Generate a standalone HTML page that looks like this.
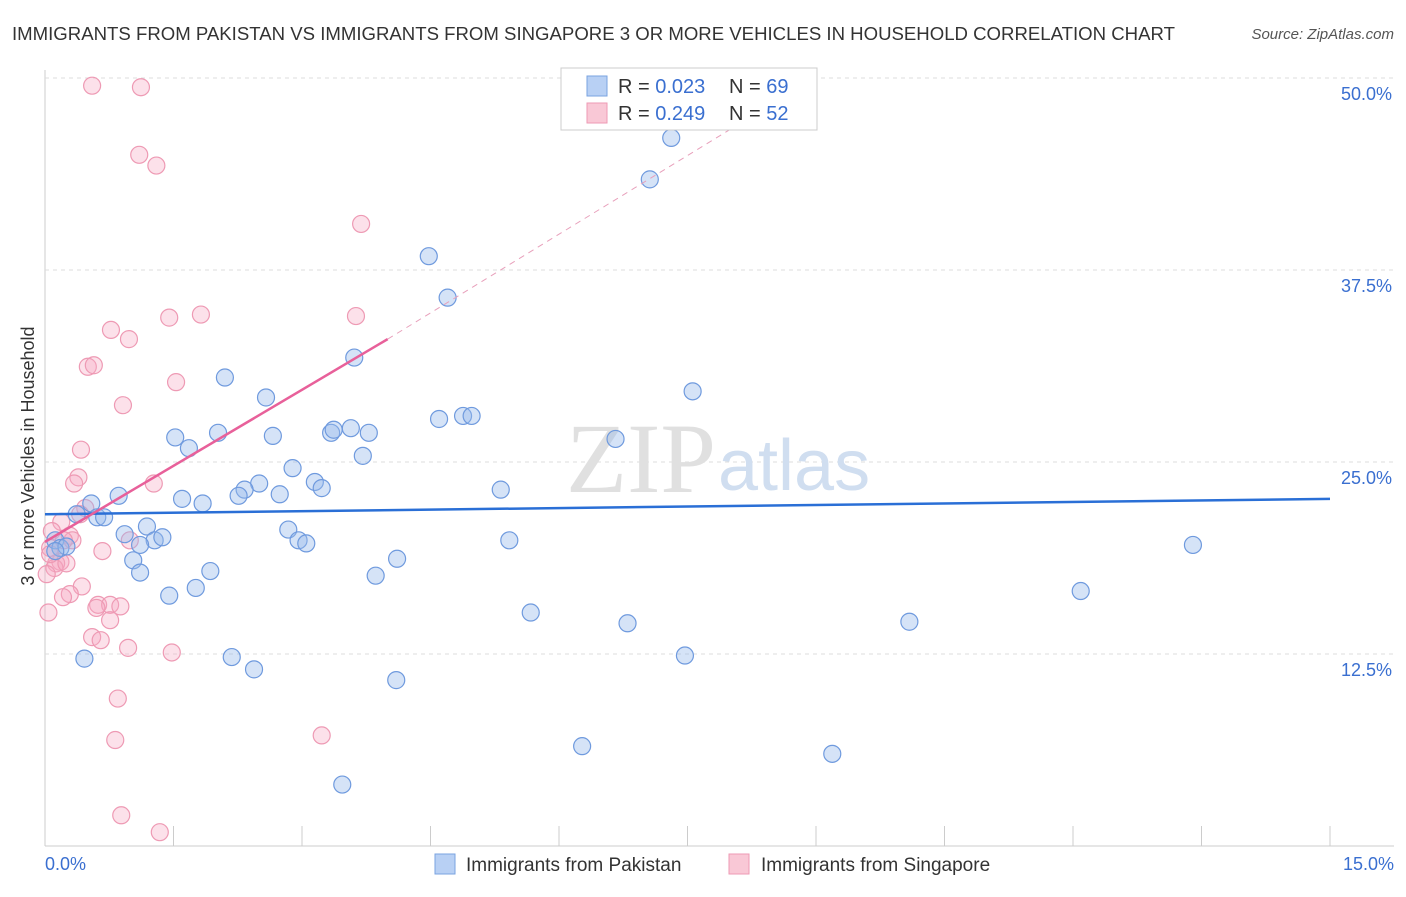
<!DOCTYPE html>
<html><head><meta charset="utf-8"><style>
body{margin:0;background:#fff;font-family:"Liberation Sans",sans-serif;}
</style></head><body>
<svg width="1406" height="892" xmlns="http://www.w3.org/2000/svg">
<text x="12" y="40" font-size="18.6" fill="#333">IMMIGRANTS FROM PAKISTAN VS IMMIGRANTS FROM SINGAPORE 3 OR MORE VEHICLES IN HOUSEHOLD CORRELATION CHART</text>
<text x="1394" y="39" font-size="15" fill="#555" font-style="italic" text-anchor="end">Source: ZipAtlas.com</text>
<g id="grid"></g>
<text x="716" y="492" font-size="100" fill="#e0e0e0" font-family="Liberation Serif" text-anchor="end">ZIP</text>
<text x="718" y="490" font-size="72" fill="#d0def0">atlas</text>
<g id="pts"></g>
<g id="lines"></g>
<text transform="translate(34,456) rotate(-90)" font-size="18" fill="#333" text-anchor="middle">3 or more Vehicles in Household</text>
<text x="45" y="870" font-size="18" fill="#3a6fd0">0.0%</text>
<text x="1394" y="870" font-size="18" fill="#3a6fd0" text-anchor="end">15.0%</text>
<g>
<rect x="561" y="68" width="256" height="62" fill="#fff" stroke="#ccc"/>
<rect x="587" y="76" width="20" height="20" fill="#b8d0f4" stroke="#7aa3e0"/>
<rect x="587" y="103" width="20" height="20" fill="#f9c8d6" stroke="#ee9ab4"/>
<text x="618" y="93" font-size="20" fill="#333">R = <tspan fill="#3a6fd0">0.023</tspan></text>
<text x="729" y="93" font-size="20" fill="#333">N = <tspan fill="#3a6fd0">69</tspan></text>
<text x="618" y="120" font-size="20" fill="#333">R = <tspan fill="#3a6fd0">0.249</tspan></text>
<text x="729" y="120" font-size="20" fill="#333">N = <tspan fill="#3a6fd0">52</tspan></text>
</g>
<g>
<rect x="435" y="854" width="20" height="20" fill="#b8d0f4" stroke="#7aa3e0"/>
<text x="466" y="871" font-size="19" fill="#333">Immigrants from Pakistan</text>
<rect x="729" y="854" width="20" height="20" fill="#f9c8d6" stroke="#ee9ab4"/>
<text x="761" y="871" font-size="19" fill="#333">Immigrants from Singapore</text>
</g>
</svg>
<script>
const yTicks=[12.5,25,37.5,50];
const yTickLabels=["12.5%","25.0%","37.5%","50.0%"];
const blueX=[7.31,7.06,4.48,4.70,3.61,2.10,7.56,2.58,4.60,4.88,4.98,6.66,1.52,2.02,2.66,1.68,3.34,3.37,3.57,3.78,3.71,2.89,3.15,3.23,5.32,2.50,2.33,2.26,2.74,1.60,1.84,0.86,0.54,0.37,0.61,0.69,1.19,0.93,1.28,1.37,2.84,2.96,3.05,5.42,1.11,13.40,0.12,0.18,0.25,1.03,4.11,1.11,1.93,3.86,1.76,1.45,12.09,5.67,6.80,10.09,0.46,2.18,7.47,2.44,4.10,6.27,9.19,3.47,0.12];
const blueY=[46.1,43.4,38.4,35.7,31.8,30.5,29.6,29.2,27.8,28.0,28.0,26.5,26.6,26.9,26.7,25.9,26.9,27.1,27.2,26.9,25.4,24.6,23.7,23.3,23.2,23.6,23.2,22.8,22.9,22.6,22.3,22.8,22.3,21.6,21.4,21.4,20.8,20.3,19.9,20.1,20.6,19.9,19.7,19.9,19.6,19.6,19.9,19.4,19.5,18.6,18.7,17.8,17.9,17.6,16.8,16.3,16.6,15.2,14.5,14.6,12.2,12.3,12.4,11.5,10.8,6.5,6.0,4.0,19.2];
const pinkX=[0.55,1.12,1.10,1.30,3.69,1.45,1.82,3.63,0.77,0.98,0.50,0.57,1.53,0.91,0.42,0.39,0.34,1.27,0.47,0.41,0.19,0.08,0.29,0.32,0.22,0.06,0.99,0.67,0.18,0.13,0.11,0.02,0.43,0.29,0.21,0.62,0.76,0.88,0.60,0.76,0.55,0.65,0.97,1.48,0.85,0.82,3.23,0.89,1.34,0.04,0.06,0.25];
const pinkY=[49.5,49.4,45.0,44.3,40.5,34.4,34.6,34.5,33.6,33.0,31.2,31.3,30.2,28.7,25.8,24.0,23.6,23.6,22.0,21.6,21.1,20.5,20.2,19.9,19.9,19.4,19.9,19.2,18.5,18.4,18.1,17.7,16.9,16.4,16.2,15.7,15.7,15.6,15.5,14.7,13.6,13.4,12.9,12.6,9.6,6.9,7.2,2.0,0.9,15.2,19.0,18.4];
const blueTrend=[0,21.6,15,22.6];
const pinkTrend=[0,19.8,4.0,33.0,8.1,47.0];
const X=v=>45+v/15*1285, Y=v=>846-v/12.5*192;
const NS="http://www.w3.org/2000/svg";
function mk(t,a,p){const e=document.createElementNS(NS,t);for(const k in a)e.setAttribute(k,a[k]);p.appendChild(e);return e;}
const grid=document.getElementById('grid');
mk('line',{x1:45,y1:70,x2:45,y2:846,stroke:'#ccc'},grid);
mk('line',{x1:45,y1:846,x2:1394,y2:846,stroke:'#ccc'},grid);
yTicks.forEach((t,i)=>{const l=mk('line',{x1:45,y1:Y(t),x2:1394,y2:Y(t),stroke:'#ddd','stroke-dasharray':'4,4'},grid);


const tx=mk('text',{x:1392,y:Y(t)+22,'font-size':18,fill:'#3a6fd0','text-anchor':'end'},grid);tx.textContent=yTickLabels[i];

});
for(let i=1;i<=10;i++){const l=mk('line',{x1:X(i*1.5),y1:826,x2:X(i*1.5),y2:846,stroke:'#ccc'},grid);

}
const pts=document.getElementById('pts');
pinkX.forEach((v,i)=>{const c=mk('circle',{cx:X(v),cy:Y(pinkY[i]),r:8.5,fill:'rgba(246,170,195,0.35)',stroke:'#ee9ab4','stroke-width':1.2},pts);

});
blueX.forEach((v,i)=>{const c=mk('circle',{cx:X(v),cy:Y(blueY[i]),r:8.5,fill:'rgba(150,185,235,0.4)',stroke:'#6f9ade','stroke-width':1.2},pts);

});
const ln=document.getElementById('lines');
let b=mk('line',{x1:X(blueTrend[0]),y1:Y(blueTrend[1]),x2:X(blueTrend[2]),y2:Y(blueTrend[3]),stroke:'#2a6fd6','stroke-width':2.5},ln);


let p=mk('line',{x1:X(pinkTrend[0]),y1:Y(pinkTrend[1]),x2:X(pinkTrend[2]),y2:Y(pinkTrend[3]),stroke:'#e8609a','stroke-width':2.5},ln);


let pd=mk('line',{x1:X(pinkTrend[2]),y1:Y(pinkTrend[3]),x2:X(pinkTrend[4]),y2:Y(pinkTrend[5]),stroke:'#e8a0bb','stroke-width':1,'stroke-dasharray':'6,5'},ln);


</script>
</body></html>
